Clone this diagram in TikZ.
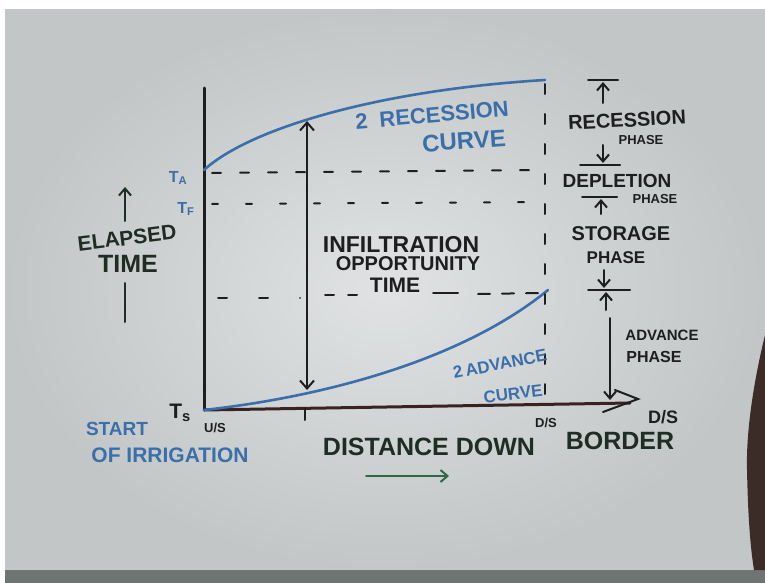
\documentclass[tikz,border=0pt]{standalone}
\usepackage{fontspec}
\setmainfont{Liberation Sans}
\usetikzlibrary{arrows.meta}
\definecolor{ink}{HTML}{1E1E20}
\definecolor{inkgreen}{HTML}{1F2D24}
\definecolor{marker}{HTML}{3A6FAA}
\definecolor{axisc}{HTML}{3A2222}
\definecolor{arrowgreen}{HTML}{2C6A42}
\definecolor{boardin}{HTML}{E0E2E3}
\definecolor{boardout}{HTML}{C2C6C7}
\definecolor{tray}{HTML}{6E7472}
\definecolor{handc}{HTML}{3B2C27}
\newcommand{\fs}[1]{\fontsize{#1}{#1}\selectfont\bfseries}
\begin{document}
\begin{tikzpicture}[x=1pt,y=-1pt,
  pen/.style={line width=2.6pt, line cap=round},
  thinpen/.style={line width=2pt, line cap=round},
  barb/.style={-{Straight Barb[length=7pt,width=12pt,line width=2pt]}},
  dbarb/.style={{Straight Barb[length=8pt,width=14pt,line width=2pt]}-{Straight Barb[length=8pt,width=14pt,line width=2pt]}},
  lbl/.style={inner sep=0pt, anchor=center},
  blk/.style={lbl, text=ink},
  blu/.style={lbl, text=marker},
  grn/.style={lbl, text=inkgreen}]
\useasboundingbox (0,0) rectangle (765,583);
% background: photo of whiteboard
\fill[white] (0,0) rectangle (765,583);
\shade[inner color=boardin, outer color=boardout] (5,10) rectangle (765,570);
\fill[tray] (5,570) rectangle (765,583);
\fill[handc] (765,335) .. controls (754,380) and (746,430) .. (747,470) .. controls (748,515) and (750,545) .. (754,570) -- (765,570) -- cycle;

% axes
\coordinate (O) at (204,410);
\coordinate (Ytop) at (204,88);
\coordinate (Xend) at (630,403);
\coordinate (Xtip) at (638,399);
\coordinate (XbarbA) at (615,390);
\coordinate (XbarbB) at (603,412);
\draw[ink, pen, line width=3pt] (O) -- (Ytop);
\draw[axisc, pen, line width=3pt] (O) -- (Xend);
\draw[ink, thinpen] (XbarbA) -- (Xtip) -- (XbarbB);
\coordinate (tk1) at (305,408);
\coordinate (tk2) at (305,420);
\draw[ink, thinpen] (tk1) -- (tk2);

% curves
\coordinate (RecS) at (204,170);
\coordinate (RecE) at (545,80);
\coordinate (AdvE) at (548,290);
\draw[marker, pen] (RecS) .. controls (250,128) and (380,90) .. (RecE);
\draw[marker, pen] (O) .. controls (330,396) and (465,358) .. (AdvE);

% infiltration opportunity time double arrow
\coordinate (IoA) at (307,121);
\coordinate (IoB) at (307,390);
\draw[ink, thinpen, dbarb] (IoA) -- (IoB);

% dashed lines
\coordinate (DvT) at (545,84);
\coordinate (DvB) at (545,405);
\draw[ink, thinpen, dash pattern=on 10pt off 20pt] (DvT) -- (DvB);
\coordinate (H1a) at (212,173);
\coordinate (H1b) at (545,170);
\draw[ink, thinpen, dash pattern=on 9pt off 19pt] (H1a) -- (H1b);
\coordinate (H2a) at (212,204);
\coordinate (H2b) at (545,202);
\draw[ink, thinpen, dash pattern=on 6pt off 28pt] (H2a) -- (H2b);
\coordinate (H3a) at (218,298);
\coordinate (H3b) at (300,298);
\draw[ink, thinpen, dash pattern=on 9pt off 32pt] (H3a) -- (H3b);
\coordinate (H3c) at (325,295);
\coordinate (H3d) at (360,295);
\draw[ink, thinpen, dash pattern=on 9pt off 14pt] (H3c) -- (H3d);
\coordinate (H3e) at (433,293);
\coordinate (H3f) at (458,293);
\draw[ink, thinpen] (H3e) -- (H3f);
\coordinate (H3g) at (478,294);
\coordinate (H3h) at (542,293);
\draw[ink, thinpen, dash pattern=on 12pt off 12pt] (H3g) -- (H3h);

% phase markers on the right
\coordinate (b1l) at (588,80);  \coordinate (b1r) at (618,80);
\coordinate (a1s) at (603,103); \coordinate (a1e) at (603,82);
\draw[ink, thinpen] (b1l) -- (b1r);
\draw[ink, thinpen, barb] (a1s) -- (a1e);
\coordinate (a2s) at (603,145); \coordinate (a2e) at (603,163);
\coordinate (b2l) at (580,165); \coordinate (b2r) at (620,165);
\draw[ink, thinpen, barb] (a2s) -- (a2e);
\draw[ink, thinpen] (b2l) -- (b2r);
\coordinate (b3l) at (582,197); \coordinate (b3r) at (617,197);
\coordinate (a3s) at (601,214); \coordinate (a3e) at (601,199);
\draw[ink, thinpen] (b3l) -- (b3r);
\draw[ink, thinpen, barb] (a3s) -- (a3e);
\coordinate (a4s) at (604,270); \coordinate (a4e) at (604,288);
\coordinate (b4l) at (588,290); \coordinate (b4r) at (630,290);
\coordinate (a5s) at (606,310); \coordinate (a5e) at (606,292);
\draw[ink, thinpen, barb] (a4s) -- (a4e);
\draw[ink, thinpen] (b4l) -- (b4r);
\draw[ink, thinpen, barb] (a5s) -- (a5e);
\coordinate (a6s) at (610,318); \coordinate (a6e) at (610,400);
\draw[ink, thinpen, barb] (a6s) -- (a6e);

% elapsed time arrow
\coordinate (ea1) at (125,221); \coordinate (ea2) at (125,187);
\coordinate (el1) at (125,283); \coordinate (el2) at (125,322);
\draw[inkgreen, thinpen, barb] (ea1) -- (ea2);
\draw[inkgreen, thinpen] (el1) -- (el2);

% distance arrow
\coordinate (ga1) at (366,476); \coordinate (ga2) at (449,476);
\draw[arrowgreen, thinpen, barb] (ga1) -- (ga2);

% labels
\node[blk, font=\fs{23}] (inf1) at (401,245) {INFILTRATION};
\node[blk, font=\fs{20}] (inf2) at (408,264) {OPPORTUNITY};
\node[blk, font=\fs{21}] (inf3) at (395,285) {TIME};

\node[blu, font=\fs{22}, rotate=5] (rc1) at (432,115) {2\hspace{12pt}RECESSION};
\node[blu, font=\fs{24}, rotate=4] (rc3) at (464,141) {CURVE};

\node[blu, font=\fs{17}, rotate=11] (av1) at (500,364) {2\,ADVANCE};
\node[blu, font=\fs{17}, rotate=7] (av3) at (513,394) {CURVE};

\node[blk, font=\fs{20}, rotate=3] (rp1) at (627,120) {RECESSION};
\node[blk, font=\fs{13}] (rp2) at (641,140) {PHASE};
\node[blk, font=\fs{19}] (dp1) at (617,181) {DEPLETION};
\node[blk, font=\fs{13}] (dp2) at (655,199) {PHASE};
\node[blk, font=\fs{20}] (sp1) at (621,234) {STORAGE};
\node[blk, font=\fs{17}] (sp2) at (616,258) {PHASE};
\node[blk, font=\fs{15}] (ap1) at (662,335) {ADVANCE};
\node[blk, font=\fs{16}] (ap2) at (654,357) {PHASE};

\node[grn, font=\fs{21}, rotate=7] (et1) at (127,238) {ELAPSED};
\node[grn, font=\fs{25}] (et2) at (128,264) {TIME};

\node[blu, font=\fs{16}] (ta) at (178,178) {T\textsubscript{A}};
\node[blu, font=\fs{16}] (tf) at (186,209) {T\textsubscript{F}};

\node[blu, font=\fs{19}] (st1) at (117,429) {START};
\node[blu, font=\fs{21}] (st2) at (170,455) {OF IRRIGATION};
\node[blk, font=\fs{21}] (ts) at (180,413) {T\textsubscript{s}};
\node[blk, font=\fs{13}] (us) at (215,428) {U/S};

\node[grn, font=\fs{25}] (dd) at (429,447) {DISTANCE DOWN};
\node[grn, font=\fs{25}] (bo) at (620,441) {BORDER};
\node[blk, font=\fs{13}] (ds1) at (546,423) {D/S};
\node[blk, font=\fs{18}] (ds2) at (663,417) {D/S};
\end{tikzpicture}
\end{document}
